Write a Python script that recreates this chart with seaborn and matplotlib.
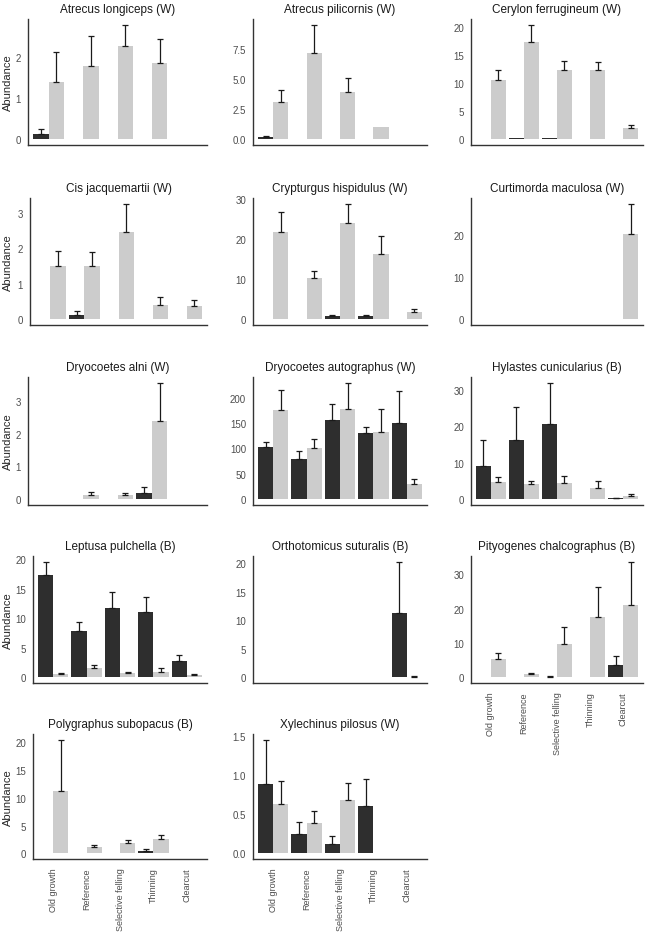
import numpy as np
import pandas as pd
import matplotlib.pyplot as plt
import seaborn as sns

nan = np.nan

treatments = ["Old growth", "Reference", "Selective felling", "Thinning", "Clearcut"]
groups = ["dark", "light"]
colors = {"dark": "#2e2e2e", "light": "#cccccc"}

# per species: dark means, dark error tops, light means, light error tops
atrecus_longiceps = [[0.12, nan, nan, nan, nan], [0.24, nan, nan, nan, nan],
                     [1.40, 1.79, 2.27, 1.84, nan], [2.12, 2.50, 2.78, 2.44, nan]]
atrecus_pilicornis = [[0.16, nan, nan, nan, nan], [0.30, nan, nan, nan, nan],
                      [3.13, 7.17, 3.92, 1.04, nan], [4.09, 9.50, 5.07, 1.04, nan]]
cerylon_ferrugineum = [[nan, 0.2, 0.2, nan, nan], [nan, 0.2, 0.2, nan, nan],
                       [10.5, 17.3, 12.3, 12.3, 2.0], [12.4, 20.4, 13.9, 13.7, 2.6]]
cis_jacquemartii = [[nan, 0.13, nan, nan, nan], [nan, 0.23, nan, nan, nan],
                    [1.50, 1.50, 2.45, 0.40, 0.37], [1.93, 1.90, 3.25, 0.62, 0.53]]
crypturgus_hispidulus = [[nan, 0.1, 0.8, 0.8, 0.1], [nan, 0.1, 1.0, 1.0, 0.1],
                         [21.6, 10.2, 23.9, 16.2, 1.9], [26.6, 12.0, 28.7, 20.8, 2.5]]
curtimorda_maculosa = [[nan, nan, nan, nan, 0.15], [nan, nan, nan, nan, 0.15],
                       [nan, nan, nan, nan, 20.2], [nan, nan, nan, nan, 27.3]]
dryocoetes_alni = [[nan, nan, nan, 0.18, nan], [nan, nan, nan, 0.36, nan],
                   [nan, 0.12, 0.12, 2.38, nan], [nan, 0.22, 0.20, 3.55, nan]]
dryocoetes_autographus = [[103, 80, 155, 131, 149], [112, 94, 187, 143, 213],
                          [175, 100, 177, 133, 29], [215, 119, 229, 177, 40]]
hylastes_cunicularius = [[9.2, 16.2, 20.8, 0.1, 0.2], [16.4, 25.4, 32.0, 0.1, 0.35],
                         [4.7, 4.2, 4.4, 3.0, 0.8], [6.1, 5.1, 6.4, 5.0, 1.4]]
leptusa_pulchella = [[17.3, 7.8, 11.7, 11.1, 2.8], [19.6, 9.3, 14.4, 13.65, 3.85],
                     [0.57, 1.5, 0.7, 0.85, 0.35], [0.8, 2.0, 0.95, 1.5, 0.6]]
orthotomicus_suturalis = [[nan, nan, nan, nan, 11.3], [nan, nan, nan, nan, 20.3],
                          [nan, nan, nan, nan, 0.1], [nan, nan, nan, nan, 0.25]]
pityogenes_chalcographus = [[nan, nan, 0.15, nan, 3.5], [nan, nan, 0.3, nan, 6.1],
                            [5.45, 1.0, 9.7, 17.6, 20.9], [7.1, 1.25, 14.6, 26.3, 33.6]]
polygraphus_subopacus = [[nan, nan, nan, 0.5, nan], [nan, nan, nan, 0.7, nan],
                         [11.3, 1.2, 1.9, 2.5, nan], [20.5, 1.5, 2.4, 3.3, nan]]
xylechinus_pilosus = [[0.88, 0.25, 0.12, 0.60, nan], [1.45, 0.40, 0.22, 0.95, nan],
                      [0.63, 0.39, 0.68, nan, nan], [0.92, 0.54, 0.90, nan, nan]]

titles = ["Atrecus longiceps (W)", "Atrecus pilicornis (W)", "Cerylon ferrugineum (W)",
          "Cis jacquemartii (W)", "Crypturgus hispidulus (W)", "Curtimorda maculosa (W)",
          "Dryocoetes alni (W)", "Dryocoetes autographus (W)", "Hylastes cunicularius (B)",
          "Leptusa pulchella (B)", "Orthotomicus suturalis (B)", "Pityogenes chalcographus (B)",
          "Polygraphus subopacus (B)", "Xylechinus pilosus (W)"]
values = [atrecus_longiceps, atrecus_pilicornis, cerylon_ferrugineum,
          cis_jacquemartii, crypturgus_hispidulus, curtimorda_maculosa,
          dryocoetes_alni, dryocoetes_autographus, hylastes_cunicularius,
          leptusa_pulchella, orthotomicus_suturalis, pityogenes_chalcographus,
          polygraphus_subopacus, xylechinus_pilosus]
yticks = [[0, 1, 2], [0.0, 2.5, 5.0, 7.5], [0, 5, 10, 15, 20],
          [0, 1, 2, 3], [0, 10, 20, 30], [0, 10, 20],
          [0, 1, 2, 3], [0, 50, 100, 150, 200], [0, 10, 20, 30],
          [0, 5, 10, 15, 20], [0, 5, 10, 15, 20], [0, 10, 20, 30],
          [0, 5, 10, 15, 20], [0.0, 0.5, 1.0, 1.5]]

sns.set_style("white")
plt.rcParams['font.family'] = ['Liberation Sans', 'DejaVu Sans']

W, H = 646, 937
fig = plt.figure(figsize=(W / 100, H / 100), dpi=100)

# panel frames in pixels; first column shifts right when tick labels are wider
col1_left = [28, 30, 28, 33, 33]
col_left = [None, 253, 471]
col_right = [207, 427, 643]
row_top = [20, 199, 378, 557, 735]
row_bot = [146, 326, 506, 684, 860]

for i, (title, vals, ticks) in enumerate(zip(titles, values, yticks)):
    r, c = divmod(i, 3)
    x0 = col1_left[r] if c == 0 else col_left[c]
    x1 = col_right[c]
    y0, y1 = row_top[r], row_bot[r]
    ax = fig.add_axes([x0 / W, 1 - y1 / H, (x1 - x0) / W, (y1 - y0) / H])

    df = pd.DataFrame({
        "treatment": treatments * 2,
        "group": ["dark"] * 5 + ["light"] * 5,
        "mean": vals[0] + vals[2],
        "hi": vals[1] + vals[3],
    })
    sns.barplot(data=df, x="treatment", y="mean", hue="group",
                order=treatments, hue_order=groups, palette=colors,
                width=0.9, errorbar=None, legend=False, linewidth=0, ax=ax)

    for k, g in enumerate(groups):
        sub = df[(df["group"] == g) & df["mean"].notna() & (df["hi"] > df["mean"])]
        xs = [treatments.index(t) + (k - 0.5) * 0.45 for t in sub["treatment"]]
        ax.errorbar(xs, sub["mean"], yerr=[np.zeros(len(sub)), sub["hi"] - sub["mean"]],
                    fmt="none", ecolor="#1a1a1a", elinewidth=0.9, capsize=2, capthick=0.9)

    top = np.nanmax(df["hi"].values)
    ax.set_ylim(-0.05 * top, 1.05 * top)
    ax.set_xlim(-0.6, 4.6)
    ax.set_yticks(ticks)
    if isinstance(ticks[0], float):
        ax.set_yticklabels([f"{t:.1f}" for t in ticks])
    ax.set_title(title, fontsize=8.5, pad=5, color="#1a1a1a")
    ax.set_xlabel("")
    if c == 0:
        ax.set_ylabel("Abundance", fontsize=8)
        ax.yaxis.set_label_coords((13 - x0) / (x1 - x0), 0.5)
    else:
        ax.set_ylabel("")
    for s in ["top", "right"]:
        ax.spines[s].set_visible(False)
    for s in ["left", "bottom"]:
        ax.spines[s].set_color("#333333")
        ax.spines[s].set_linewidth(1)
    ax.tick_params(axis="y", length=0, labelsize=7, colors="#4d4d4d", pad=5)
    bottom_row = (r == 4) or (r == 3 and c == 2)
    if bottom_row:
        ax.tick_params(axis="x", length=0, labelsize=6.5, colors="#4d4d4d", pad=6)
        ax.set_xticks(range(5))
        ax.set_xticklabels(treatments, rotation=90, va="top", ha="center")
    else:
        ax.set_xticks([])

fig.savefig("out.png", dpi=100)
